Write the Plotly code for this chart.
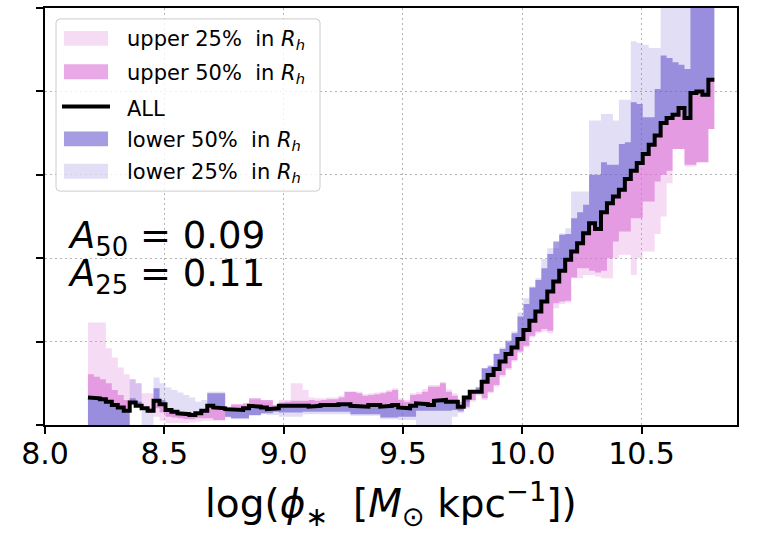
import numpy as np
import plotly.graph_objects as go

# Running-median profile of the star-formation indicator versus log(phi_*),
# binned in steps of 0.025 dex starting at 8.18.
BIN_START = 8.18
BIN_WIDTH = 0.025

all_galaxies = [
    0.33, 0.32, 0.31, 0.28, 0.24, 0.21, 0.17, 0.27, 0.23, 0.20,
    0.17, 0.29, 0.25, 0.18, 0.16, 0.14, 0.13, 0.12, 0.14, 0.17,
    0.23, 0.21, 0.20, 0.19, 0.18, 0.18, 0.20, 0.23, 0.22, 0.21,
    0.19, 0.20, 0.23, 0.23, 0.24, 0.24, 0.23, 0.22, 0.23, 0.24,
    0.23, 0.24, 0.25, 0.25, 0.23, 0.23, 0.22, 0.24, 0.24, 0.22,
    0.23, 0.24, 0.21, 0.20, 0.23, 0.26, 0.25, 0.24, 0.29, 0.30,
    0.28, 0.28, 0.22, 0.33, 0.40, 0.40, 0.52, 0.60, 0.67, 0.76,
    0.85, 0.93, 1.03, 1.14, 1.25, 1.36, 1.48, 1.60, 1.72, 1.85,
    1.98, 2.08, 2.18, 2.30, 2.42, 2.35, 2.55, 2.66, 2.74, 2.82,
    2.95, 3.05, 3.14, 3.25, 3.36, 3.47, 3.62, 3.68, 3.72, 3.80,
    3.68, 3.98, 4.00, 3.96, 4.14,
]

upper_25 = [
    1.23, 1.23, 1.23, 0.92, 0.81, 0.69, 0.61, 0.55, 0.50, 0.38,
    0.38, 0.10, 0.05, 0.02, 0.02, 0.02, 0.02, 0.03, 0.04, 0.05,
    0.05, 0.05, 0.05, 0.20, 0.23, 0.23, 0.24, 0.30, 0.30, 0.28,
    0.28, 0.22, 0.30, 0.30, 0.50, 0.50, 0.42, 0.33, 0.32, 0.32,
    0.33, 0.33, 0.35, 0.40, 0.40, 0.40, 0.37, 0.38, 0.39, 0.40,
    0.42, 0.44, 0.32, 0.30, 0.38, 0.40, 0.43, 0.48, 0.48, 0.52,
    0.43, 0.38, 0.15, 0.25, 0.28, 0.35, 0.30, 0.38, 0.46, 0.58,
    0.66, 0.76, 0.86, 0.93, 1.05, 1.10, 1.12, 1.10, 1.40, 1.45,
    1.47, 1.76, 1.76, 1.80, 1.80, 1.78, 1.76, 1.76, 2.00, 2.04,
    2.04, 1.80, 2.00, 2.08, 2.08, 2.29, 2.50, 2.90, 3.31, 3.31,
    3.10, 3.10, 3.15, 3.15, 3.55,
]

upper_50 = [
    0.61, 0.58, 0.55, 0.50, 0.42, 0.36, 0.30, 0.27, 0.25, 0.22,
    0.20, 0.20, 0.15, 0.10, 0.09, 0.08, 0.07, 0.07, 0.08, 0.08,
    0.08, 0.06, 0.06, 0.22, 0.25, 0.25, 0.26, 0.32, 0.32, 0.30,
    0.30, 0.24, 0.27, 0.28, 0.29, 0.29, 0.29, 0.30, 0.29, 0.30,
    0.31, 0.31, 0.33, 0.40, 0.40, 0.38, 0.35, 0.36, 0.37, 0.38,
    0.40, 0.42, 0.30, 0.28, 0.36, 0.37, 0.40, 0.46, 0.46, 0.50,
    0.40, 0.35, 0.28, 0.22, 0.30, 0.38, 0.32, 0.40, 0.48, 0.60,
    0.68, 0.78, 0.88, 0.95, 1.07, 1.12, 1.15, 1.13, 1.46, 1.48,
    1.49, 1.77, 1.88, 1.88, 1.85, 1.83, 1.85, 2.00, 2.20, 2.32,
    2.32, 2.48, 2.48, 2.68, 2.68, 2.92, 3.00, 3.05, 3.31, 3.31,
    3.12, 3.12, 3.15, 3.15, 3.55,
]

lower_50 = [
    0.00, 0.00, 0.00, 0.00, 0.00, 0.00, 0.00, 0.32, 0.28, 0.18,
    0.15, 0.44, 0.30, 0.16, 0.14, 0.12, 0.11, 0.10, 0.13, 0.15,
    0.38, 0.38, 0.38, 0.10, 0.08, 0.08, 0.08, 0.12, 0.12, 0.14,
    0.14, 0.16, 0.15, 0.15, 0.15, 0.15, 0.16, 0.16, 0.16, 0.16,
    0.16, 0.16, 0.16, 0.16, 0.13, 0.13, 0.13, 0.13, 0.13, 0.09,
    0.09, 0.09, 0.10, 0.10, 0.10, 0.17, 0.17, 0.17, 0.17, 0.17,
    0.17, 0.18, 0.17, 0.28, 0.42, 0.45, 0.68, 0.70, 0.85, 0.91,
    1.00, 1.10, 1.30, 1.45, 1.65, 1.74, 1.88, 2.05, 2.20, 2.28,
    2.29, 2.48, 2.55, 2.64, 3.00, 3.00, 3.15, 3.12, 3.12, 3.37,
    3.39, 3.87, 3.85, 3.69, 3.69, 4.03, 4.43, 4.40, 4.35, 4.32,
    4.27, 5.50, 5.50, 5.50, 5.50,
]

lower_25 = [
    0.00, 0.00, 0.00, 0.00, 0.00, 0.00, 0.00, 0.55, 0.50, 0.00,
    0.00, 0.57, 0.50, 0.45, 0.42, 0.39, 0.36, 0.33, 0.28, 0.30,
    0.40, 0.40, 0.40, 0.09, 0.07, 0.07, 0.07, 0.11, 0.11, 0.13,
    0.12, 0.12, 0.10, 0.10, 0.10, 0.10, 0.13, 0.13, 0.13, 0.13,
    0.13, 0.13, 0.13, 0.13, 0.11, 0.11, 0.11, 0.11, 0.11, 0.07,
    0.07, 0.07, 0.06, 0.06, 0.06, 0.00, 0.00, 0.00, 0.00, 0.00,
    0.00, 0.10, 0.15, 0.20, 0.42, 0.46, 0.68, 0.72, 0.86, 0.93,
    1.02, 1.12, 1.35, 1.52, 1.66, 1.76, 1.99, 2.12, 2.12, 2.30,
    2.36, 2.80, 2.80, 2.80, 3.65, 3.65, 3.73, 3.73, 3.65, 3.90,
    3.90, 4.60, 4.58, 4.56, 4.52, 4.52, 5.50, 5.50, 5.50, 5.50,
    5.50, 5.50, 5.50, 5.50, 5.50,
]

x_ticks = [8.0, 8.5, 9.0, 9.5, 10.0, 10.5]
x_tick_labels = ["8.0", "8.5", "9.0", "9.5", "10.0", "10.5"]
y_ticks = [0, 1, 2, 3, 4, 5]

FONT = "DejaVu Sans"
ORCHID = (218, 112, 214)
SLATE = (106, 90, 205)
LINE_W = 4


def rgba(rgb, a):
    return "rgba({},{},{},{})".format(*rgb, a)


# bands: (values, fill colour, legend label)
bands = [
    (upper_25, rgba(ORCHID, 0.25), "upper 25%  in <i>R<sub>h</sub></i>"),
    (upper_50, rgba(ORCHID, 0.6), "upper 50%  in <i>R<sub>h</sub></i>"),
    (lower_50, rgba(SLATE, 0.6), "lower 50%  in <i>R<sub>h</sub></i>"),
    (lower_25, rgba(SLATE, 0.2), "lower 25%  in <i>R<sub>h</sub></i>"),
]

edges = BIN_START + BIN_WIDTH * np.arange(len(all_galaxies) + 1)


def step_xy(values):
    v = np.asarray(values, dtype=float)
    xs = np.column_stack([edges[:-1], edges[1:]]).ravel()
    ys = np.repeat(v, 2)
    return xs, ys


x_all, y_all = step_xy(all_galaxies)

fig = go.Figure()

# shaded region between the full-sample profile and each subsample
for values, color, _ in bands:
    xs, ys = step_xy(values)
    fig.add_trace(go.Scatter(
        x=np.concatenate([xs, xs[::-1]]),
        y=np.concatenate([ys, y_all[::-1]]),
        mode="lines", fill="toself", fillcolor=color,
        line=dict(width=0), hoverinfo="skip", showlegend=False,
    ))

fig.add_trace(go.Scatter(
    x=x_all, y=y_all, mode="lines",
    line=dict(color="black", width=LINE_W), showlegend=False,
))

# plot-area geometry in pixels, used to place the legend box and text
W, H = 760, 534
L, R, T, B = 45, 737, 6, 425


def px(xp):
    return (xp - L) / (R - L)


def py(yp):
    return (B - yp) / (B - T)


shapes = []
annotations = []

# legend frame with rounded corners
x0, x1, y0, y1, rad = 56, 320, 17, 190, 4
frame = (
    f"M {px(x0 + rad)} {py(y0)} L {px(x1 - rad)} {py(y0)} "
    f"Q {px(x1)} {py(y0)} {px(x1)} {py(y0 + rad)} "
    f"L {px(x1)} {py(y1 - rad)} Q {px(x1)} {py(y1)} {px(x1 - rad)} {py(y1)} "
    f"L {px(x0 + rad)} {py(y1)} Q {px(x0)} {py(y1)} {px(x0)} {py(y1 - rad)} "
    f"L {px(x0)} {py(y0 + rad)} Q {px(x0)} {py(y0)} {px(x0 + rad)} {py(y0)} Z"
)
shapes.append(dict(type="path", xref="paper", yref="paper", path=frame,
                   fillcolor="rgba(255,255,255,0.8)",
                   line=dict(color="#cccccc", width=1), layer="above"))

legend_rows = [
    (bands[0], 36.5),
    (bands[1], 70.0),
    (None, 105.0),
    (bands[2], 137.5),
    (bands[3], 170.0),
]
for band, yc in legend_rows:
    if band is None:
        shapes.append(dict(type="line", xref="paper", yref="paper",
                           x0=px(62), x1=px(110), y0=py(yc), y1=py(yc),
                           line=dict(color="black", width=LINE_W), layer="above"))
        label = "ALL"
    else:
        _, color, label = band
        shapes.append(dict(type="rect", xref="paper", yref="paper",
                           x0=px(64), x1=px(108), y0=py(yc - 7.5), y1=py(yc + 7.5),
                           fillcolor=color, line=dict(width=0), layer="above"))
    annotations.append(dict(xref="paper", yref="paper", x=px(125), y=py(yc + 2),
                            xanchor="left", yanchor="middle", showarrow=False,
                            text=label, font=dict(family=FONT, size=21, color="black")))

# asymmetry statistics
for text, yc in [("<i>A</i><sub>50</sub> = 0.09", 237),
                 ("<i>A</i><sub>25</sub> = 0.11", 275)]:
    annotations.append(dict(xref="paper", yref="paper", x=px(66), y=py(yc),
                            xanchor="left", yanchor="middle", showarrow=False,
                            text=text, font=dict(family=FONT, size=37, color="black")))

# x-axis title
annotations.append(dict(
    xref="paper", yref="paper", x=0.5, y=py(504), xanchor="center", yanchor="middle",
    showarrow=False,
    text="log(<i>ϕ</i><sub>∗</sub>  [<i>M</i><sub>⊙</sub> kpc<sup>−1</sup>])",
    font=dict(family=FONT, size=39, color="black"),
))

axis_common = dict(
    showline=True, linecolor="black", linewidth=1.6, mirror=True,
    ticks="outside", ticklen=7, tickwidth=1.5, tickcolor="black",
    showgrid=True, gridcolor="#b4b4b4", gridwidth=1.3, griddash="2px,3px",
    zeroline=False,
)

fig.update_layout(
    width=W, height=H,
    margin=dict(l=L, r=W - R, t=T, b=H - B),
    plot_bgcolor="white", paper_bgcolor="white",
    font=dict(family=FONT, color="black"),
    xaxis=dict(range=[8.0, 10.9], tickvals=x_ticks, ticktext=x_tick_labels,
               tickfont=dict(family=FONT, size=30, color="black"),
               ticklabelstandoff=-6, **axis_common),
    yaxis=dict(range=[0, 5], tickvals=y_ticks, showticklabels=False, **axis_common),
    shapes=shapes,
    annotations=annotations,
    showlegend=False,
)

fig.write_html("out.html")
